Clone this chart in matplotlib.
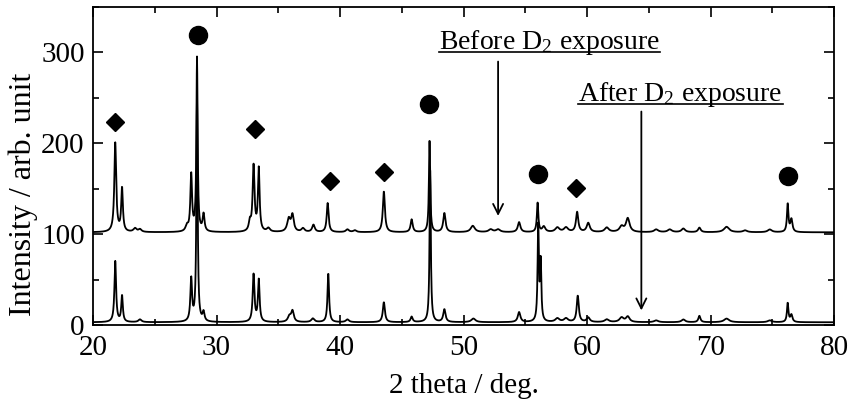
import numpy as np
import matplotlib
matplotlib.use('Agg')
import matplotlib.pyplot as plt
from matplotlib.ticker import MultipleLocator
from matplotlib.lines import Line2D

plt.rcParams['font.family'] = ['Liberation Serif', 'DejaVu Serif']
plt.rcParams['mathtext.fontset'] = 'custom'
plt.rcParams['mathtext.rm'] = 'Liberation Serif'
plt.rcParams['mathtext.it'] = 'Liberation Serif:italic'

# peak lists: position (deg), height above baseline, fwhm (deg)
before_base = 102
before_pos = [21.8, 22.35, 23.4, 23.8, 27.6, 27.95, 28.42, 28.95, 32.7, 33.0, 33.42, 34.2,
              35.85, 36.15, 37.0, 37.85, 39.0, 40.6, 41.2, 43.55, 45.8, 47.25, 48.45, 50.75,
              52.2, 52.8, 54.5, 56.0, 56.5, 57.6, 58.3, 59.2, 60.1, 61.6, 62.8, 63.3,
              65.6, 66.7, 67.8, 69.1, 71.3, 72.8, 74.8, 76.25, 76.55]
before_h = [98, 48, 4, 3, 6, 63, 191, 19, 10, 72, 69, 4,
            14, 18, 4, 8, 32, 3, 2, 45, 14, 103, 21, 7,
            3, 3, 11, 32, 6, 5, 5, 22, 10, 5, 6, 15,
            3, 3, 4, 5, 6, 2, 3, 31, 14]
before_w = [0.18, 0.16, 0.3, 0.3, 0.25, 0.16, 0.12, 0.18, 0.2, 0.18, 0.16, 0.3,
            0.3, 0.25, 0.3, 0.25, 0.18, 0.3, 0.3, 0.2, 0.2, 0.12, 0.22, 0.4,
            0.4, 0.4, 0.25, 0.14, 0.3, 0.4, 0.4, 0.22, 0.3, 0.4, 0.4, 0.35,
            0.4, 0.4, 0.35, 0.25, 0.5, 0.4, 0.4, 0.14, 0.2]

after_base = 3
after_pos = [21.8, 22.35, 23.8, 27.95, 28.42, 28.95, 33.0, 33.42, 35.9, 36.15, 37.8,
             39.05, 40.6, 43.55, 45.8, 47.3, 48.45, 50.8, 54.5, 56.05, 56.25, 57.6, 58.3,
             59.25, 60.1, 61.6, 62.8, 63.3, 65.6, 67.8, 69.1, 71.3, 74.8, 76.25, 76.55]
after_h = [67, 29, 3, 47, 250, 10, 52, 46, 6, 12, 4,
           54, 3, 22, 6, 167, 14, 4, 11, 107, 65, 4, 4,
           29, 5, 3, 5, 6, 2, 3, 7, 4, 2, 21, 8]
after_w = [0.16, 0.15, 0.3, 0.16, 0.12, 0.18, 0.17, 0.16, 0.3, 0.25, 0.3,
           0.15, 0.3, 0.2, 0.2, 0.12, 0.22, 0.4, 0.25, 0.12, 0.12, 0.4, 0.4,
           0.2, 0.3, 0.4, 0.4, 0.35, 0.4, 0.35, 0.2, 0.5, 0.4, 0.14, 0.2]

# phase markers
circle_x = [28.5, 47.2, 56.0, 76.25]
circle_y = [319, 243, 166, 164]
diamond_x = [21.8, 33.1, 39.2, 43.6, 59.1]
diamond_y = [223, 216, 158, 168, 151]


def pattern(tt, base, pos, h, w):
    y = np.full_like(tt, float(base))
    for p, a, g in zip(pos, h, w):
        y += a / (1 + ((tt - p) / (g / 2)) ** 2)
    return y


tt = np.arange(20, 80.001, 0.02)
I_before = pattern(tt, before_base, before_pos, before_h, before_w)
I_after = pattern(tt, after_base, after_pos, after_h, after_w)

fig = plt.figure(figsize=(8.48, 4.05), dpi=100)
ax = fig.add_axes([0.1097, 0.1975, 0.8738, 0.7852])

ax.plot(tt, I_after, color='black', lw=1.3)
ax.plot(tt, I_before, color='black', lw=1.3)
ax.plot(circle_x, circle_y, 'o', color='black', ms=13)
ax.plot(diamond_x, diamond_y, 'D', color='black', ms=9)

ax.set_xlim(20, 80)
ax.set_ylim(0, 350)
ax.xaxis.set_major_locator(MultipleLocator(10))
ax.xaxis.set_minor_locator(MultipleLocator(5))
ax.yaxis.set_major_locator(MultipleLocator(100))
ax.yaxis.set_minor_locator(MultipleLocator(50))
ax.tick_params(which='both', direction='in', top=True, right=True, width=1.2, labelsize=21)
ax.tick_params(which='major', length=7)
ax.tick_params(which='minor', length=4.5)
ax.tick_params(axis='x', which='major', pad=7.5)
ax.tick_params(axis='y', which='major', pad=6)
for s in ax.spines.values():
    s.set_linewidth(1.3)

ax.set_xlabel('2 theta / deg.', fontsize=21, labelpad=8)
ax.set_ylabel('Intensity / arb. unit', fontsize=23, labelpad=2.5, y=0.41)

# labels with arrows
t1 = ax.text(48.0, 304, 'Before D$_2$ exposure', fontsize=20, ha='left', va='baseline')
t2 = ax.text(59.3, 247, 'After D$_2$ exposure', fontsize=20, ha='left', va='baseline')
ax.annotate('', xy=(52.8, 117), xytext=(52.8, 293),
            arrowprops=dict(arrowstyle='->', color='black', lw=1.3, mutation_scale=18))
ax.annotate('', xy=(64.4, 13), xytext=(64.4, 238),
            arrowprops=dict(arrowstyle='->', color='black', lw=1.3, mutation_scale=18))

# underline the two labels
fig.canvas.draw()
r = fig.canvas.get_renderer()
inv = fig.transFigure.inverted()
for t in (t1, t2):
    bb = t.get_window_extent(renderer=r)
    base_y = ax.transData.transform((0, t.get_position()[1]))[1] - 3
    (x0, y0), (x1, _) = inv.transform([(bb.x0, base_y), (bb.x1, base_y)])
    fig.add_artist(Line2D([x0, x1], [y0, y0], color='black', lw=1.2))

fig.savefig('out.png', dpi=100)
